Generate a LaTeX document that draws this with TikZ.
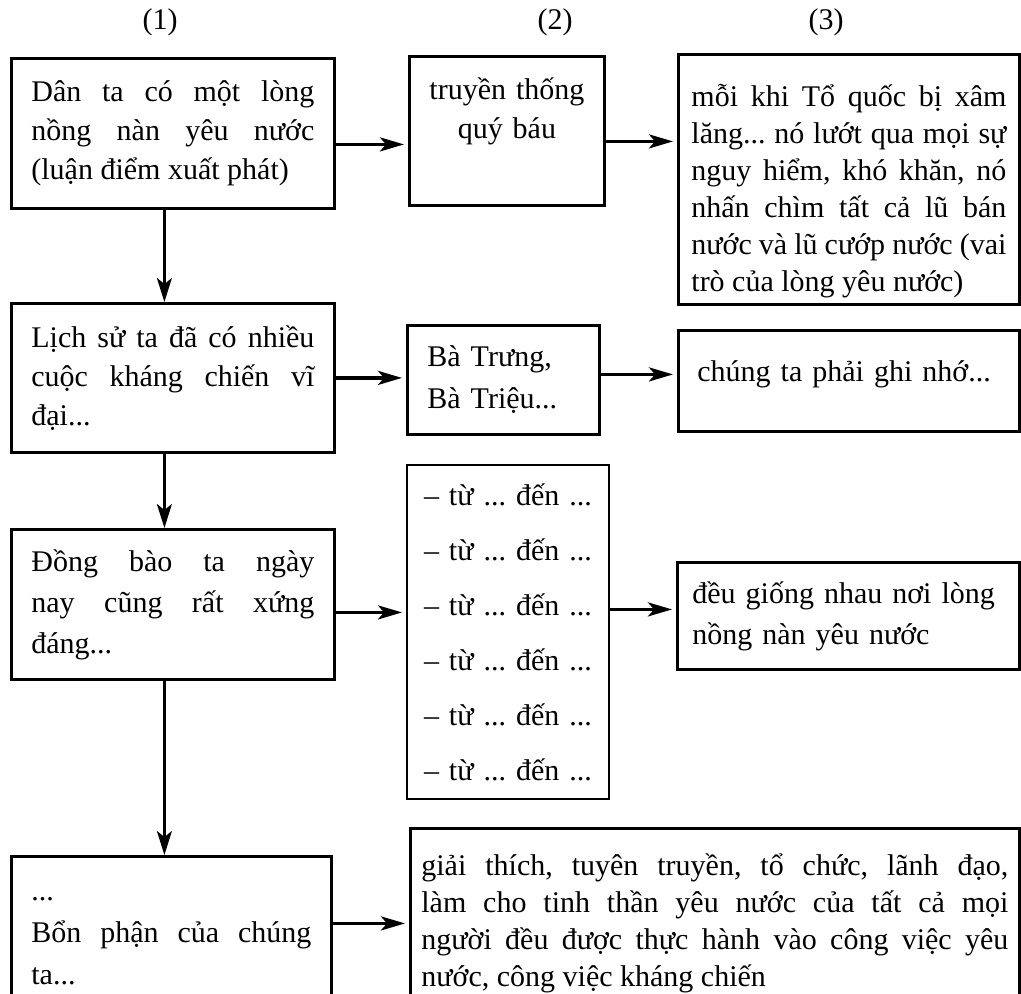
\documentclass[tikz,border=0pt]{standalone}
\usepackage{fontspec}
\setmainfont{Liberation Serif}
\usetikzlibrary{arrows.meta}
\hyphenpenalty=10000
\exhyphenpenalty=10000
\frenchspacing

\tikzset{
  box/.style={draw, line width=1.4pt, anchor=north west, inner xsep=10pt,
    inner ysep=0pt, align=justify},
  arr/.style={line width=1.6pt, shorten >=2pt,
    -{Stealth[length=12pt,width=7pt,inset=3pt]}},
  down/.style={line width=1.1pt, -{Stealth[length=12pt,width=7.5pt,inset=3pt]}},
}

\begin{document}
\begin{tikzpicture}[x=0.5pt, y=-0.5pt, font=\fontsize{15}{19.5}\selectfont]
  \clip (0,0) rectangle (1021,993);

  % column heads
  \node (h1) at (160,22) {(1)};
  \node (h2) at (555,22) {(2)};
  \node (h3) at (826,22) {(3)};

  % column (1)
  \node[box, text width=141.5pt, minimum height=75pt] (a1) at (10,57)
    {Dân ta có một lòng\linebreak nồng nàn yêu nước\linebreak (luận điểm xuất phát)};
  \node[box, text width=141.5pt, minimum height=74.5pt] (a2) at (10,302)
    {Lịch sử ta đã có nhiều\linebreak cuộc kháng chiến vĩ\linebreak đại...};
  \node[box, text width=141.5pt, minimum height=75pt,
    font=\fontsize{15}{20.5}\selectfont] (a3) at (10,528)
    {Đồng bào ta ngày\linebreak nay cũng rất xứng\linebreak đáng...};
  \node[box, text width=140pt, minimum height=85pt,
    font=\fontsize{15}{21}\selectfont] (a4) at (10,855)
    {...\linebreak Bổn phận của chúng\linebreak ta...};

  % column (2)
  \node[box, align=center, inner xsep=5pt, text width=87.5pt,
    text height=21.5pt, text depth=53pt] (b1) at (408,55)
    {truyền thống\\ quý báu};
  \node[box, align=left, text width=76pt, minimum height=54.5pt,
    font=\fontsize{15}{21}\selectfont] (b2) at (406,324)
    {Bà Trưng,\\ Bà Triệu...};
  \node[box, align=left, line width=1pt, inner xsep=8.5pt, text width=84pt,
    minimum height=167pt, font=\fontsize{15}{27.5}\selectfont] (b3) at (406,464)
    {-- từ ... đến ...\\ -- từ ... đến ...\\ -- từ ... đến ...\\
     -- từ ... đến ...\\ -- từ ... đến ...\\ -- từ ... đến ...};
  \node[box, inner xsep=5.5pt, text width=293.5pt, minimum height=95pt,
    font=\fontsize{15}{18.5}\selectfont] (b4) at (409,827)
    {giải thích, tuyên truyền, tổ chức, lãnh đạo,\linebreak
     làm cho tinh thần yêu nước của tất cả mọi\linebreak
     người đều được thực hành vào công việc yêu\linebreak
     nước, công việc kháng chiến};

  % column (3)
  \node[box, inner xsep=6.5pt, text width=157.5pt,
    text height=26pt, text depth=99pt,
    font=\fontsize{15}{18.5}\selectfont] (c1) at (677,53)
    {mỗi khi Tổ quốc bị xâm\linebreak lăng... nó lướt qua mọi sự\linebreak
     nguy hiểm, khó khăn, nó\linebreak nhấn chìm tất cả lũ bán\linebreak
     nước và lũ cướp nước (vai\linebreak trò của lòng yêu nước)};
  \node[box, align=left, inner xsep=9.5pt, text width=151.5pt,
    text height=25.5pt, text depth=25pt] (c2) at (677,329)
    {chúng ta phải ghi nhớ...};
  \node[box, align=left, inner xsep=7.5pt, text width=156pt, minimum height=53.5pt,
    font=\fontsize{15}{20.5}\selectfont] (c3) at (676,561)
    {đều giống nhau nơi lòng\\ nồng nàn yêu nước};

  % arrows down column (1)
  \foreach \p/\q in {a1/a2,a2/a3,a3/a4}
    {\draw[down] ([xshift=-4.25pt]\p.south) -- ([xshift=-4.25pt]\p.south |- \q.north);}

  % arrows to the right
  \draw[arr] ([yshift=-5.5pt]a1.east) -- ([yshift=-5.5pt]a1.east -| b1.west);
  \draw[arr] ([yshift=-5.25pt]b1.east) -- ([yshift=-5.25pt]b1.east -| c1.west);
  \draw[arr] (a2.east) -- (a2.east -| b2.west);
  \draw[arr] ([yshift=2.75pt]b2.east) -- ([yshift=2.75pt]b2.east -| c2.west);
  \draw[arr] ([yshift=-4pt]a3.east) -- ([yshift=-4pt]a3.east -| b3.west);
  \draw[arr] ([yshift=3.25pt]c3.west -| b3.east) -- ([yshift=3.25pt]c3.west);
  \draw[arr] (b4.west -| a4.east) -- (b4.west);
\end{tikzpicture}
\end{document}
